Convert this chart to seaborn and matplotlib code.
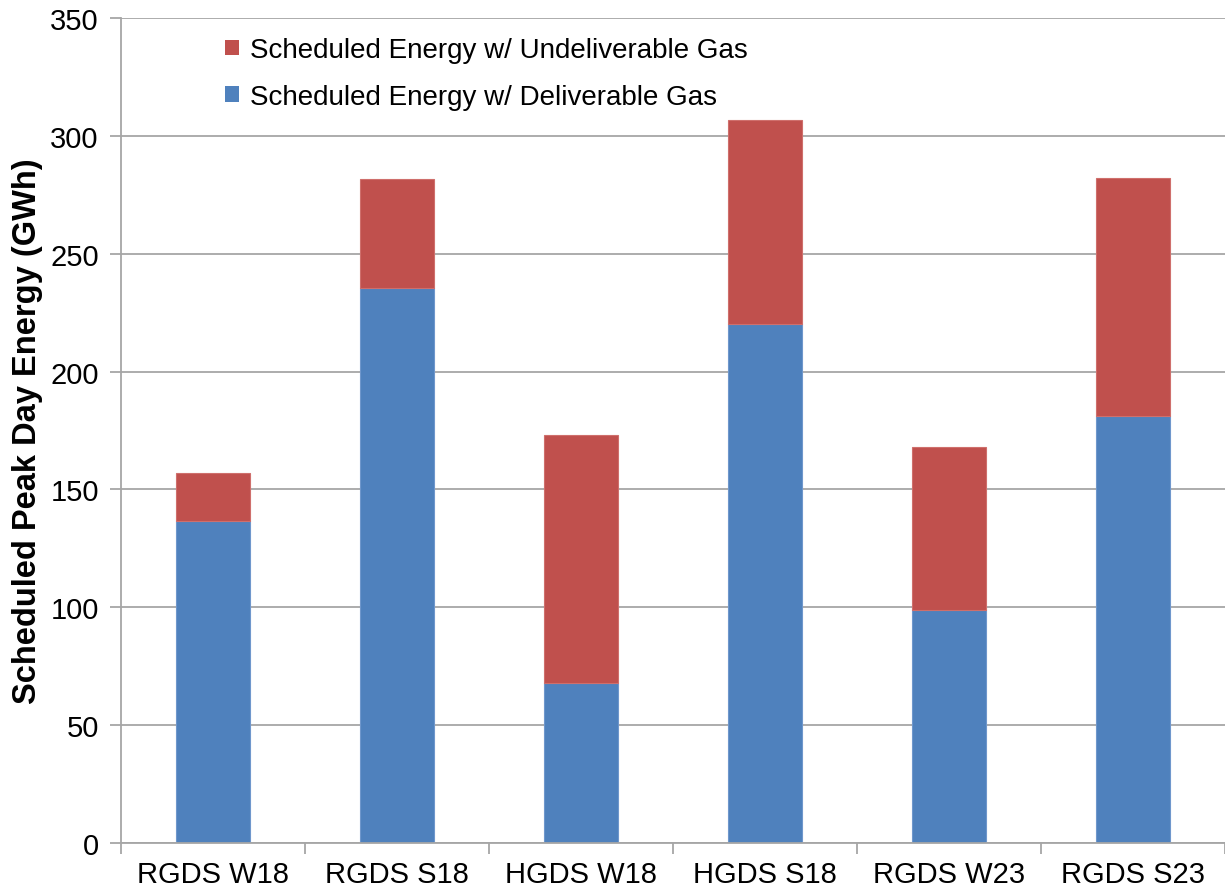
import matplotlib
matplotlib.use("Agg")
import matplotlib.pyplot as plt
import seaborn as sns
import pandas as pd
from matplotlib.patches import Patch

categories = ["RGDS W18", "RGDS S18", "HGDS W18", "HGDS S18", "RGDS W23", "RGDS S23"]
deliverable = [136.5, 235.5, 68.0, 220.0, 98.8, 181.0]
undeliverable = [20.5, 46.3, 105.2, 86.7, 69.2, 101.3]
yticks = [0, 50, 100, 150, 200, 250, 300, 350]

sns.set_theme(style="white")
plt.rcParams["font.family"] = ["Liberation Sans", "DejaVu Sans"]
plt.rcParams["text.color"] = "black"
plt.rcParams["axes.labelcolor"] = "black"
plt.rcParams["xtick.color"] = "black"
plt.rcParams["ytick.color"] = "black"

blue = "#4F81BD"
red = "#C0504D"

df = pd.DataFrame({"cat": categories, "deliv": deliverable, "undeliv": undeliverable})

fig = plt.figure(figsize=(12.25, 8.95), dpi=100)
ax = fig.add_axes([0.0988, 0.057, 0.9012, 0.9218])

ax.set_axisbelow(True)
ax.yaxis.grid(True, color="#A6A6A6", linewidth=1.3)

sns.barplot(data=df, x="cat", y="deliv", color=blue, width=0.4, ax=ax,
            saturation=1, edgecolor="#6F97CC", linewidth=0.8)
sns.barplot(data=df, x="cat", y="undeliv", bottom=df["deliv"], color=red, width=0.4,
            ax=ax, saturation=1, edgecolor="#CF6F6C", linewidth=0.8)

ax.set_xlim(-0.5, len(categories) - 0.5)
ax.set_ylim(0, 350)
ax.set_yticks(yticks)
ax.tick_params(axis="y", labelsize=21, length=8, color="#A6A6A6", labelcolor="black",
               width=1.3, pad=8, left=True)
ax.tick_params(axis="x", which="major", labelsize=21, length=0, pad=12, labelcolor="black")
ax.set_xticks([i - 0.5 for i in range(len(categories) + 1)], minor=True)
ax.tick_params(axis="x", which="minor", length=8, color="#A6A6A6", width=1.3, bottom=True)

for s in ["top", "right"]:
    ax.spines[s].set_visible(False)
for s in ["left", "bottom"]:
    ax.spines[s].set_visible(True)
    ax.spines[s].set_color("#A6A6A6")
    ax.spines[s].set_linewidth(1.3)

ax.set_xlabel("")
ax.set_ylabel("Scheduled Peak Day Energy (GWh)", fontsize=23.5, fontweight="bold",
              labelpad=5, color="black")

handles = [Patch(facecolor=red, edgecolor="none"), Patch(facecolor=blue, edgecolor="none")]
labels = ["Scheduled Energy w/ Undeliverable Gas", "Scheduled Energy w/ Deliverable Gas"]
ax.legend(handles, labels, loc="upper left", bbox_to_anchor=(0.084, 0.990), frameon=False,
          fontsize=20, handlelength=0.5, handleheight=0.5, handletextpad=0.4,
          labelspacing=0.75, borderaxespad=0, borderpad=0.4)

fig.savefig("out.png", dpi=100)
